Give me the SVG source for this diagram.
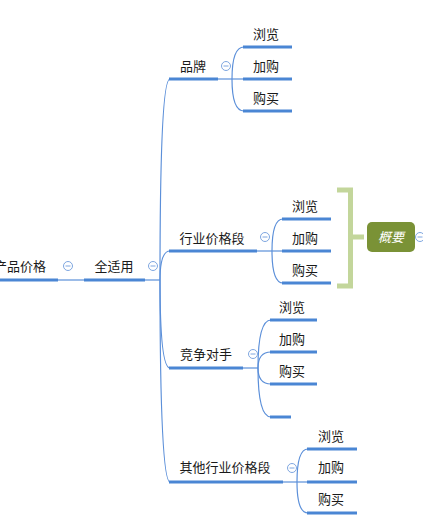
<svg xmlns="http://www.w3.org/2000/svg" width="423" height="520" viewBox="0 0 423 520">
<style>
.t{font-family:"Noto Sans CJK SC","Liberation Sans",sans-serif;font-size:13px;fill:#1a1a1a;text-anchor:middle}
.u{stroke:#4a86d4;stroke-width:3;fill:none}
.c{stroke:#5b8fd9;stroke-width:1.2;fill:none}
.col circle{fill:#fff;stroke:#7ea6e0;stroke-width:1}
.col line{stroke:#7ea6e0;stroke-width:1}
</style>
<rect width="423" height="520" fill="#fff"/>
<g id="connectors">
<path class="c" d="M58,280 L84,280"/>
<path class="c" d="M145,280 L160,280"/>
<path class="c" d="M160,280 Q160,79 170,79"/>
<path class="c" d="M160,280 Q160,251 170,251"/>
<path class="c" d="M160,280 Q160,368 170,368"/>
<path class="c" d="M160,280 Q160,482 170,482"/>
<path class="c" d="M218,79 L244,79"/>
<path class="c" d="M232,79 Q232,47 244,47"/>
<path class="c" d="M232,79 Q232,111 244,111"/>
<path class="c" d="M257,251 L283,251"/>
<path class="c" d="M272,251 Q272,219 283,219"/>
<path class="c" d="M272,251 Q272,283 283,283"/>
<path class="c" d="M243,368 L258,368"/>
<path class="c" d="M258,368 Q258,320 271,320"/>
<path class="c" d="M258,368 Q258,352 271,352"/>
<path class="c" d="M258,368 Q258,384 271,384"/>
<path class="c" d="M258,368 Q258,417 271,417"/>
<path class="c" d="M283,482 L308,482"/>
<path class="c" d="M297,482 Q297,449 308,449"/>
<path class="c" d="M297,482 Q297,513 308,513"/>
</g>
<g id="root">
<line class="u" x1="0" y1="280" x2="58" y2="280"/>
<text class="t" x="20" y="271">产品价格</text>
<g class="col"><circle cx="68" cy="266" r="4.5"/><line x1="65.5" y1="266" x2="70.5" y2="266"/></g>
</g>
<g id="quanshiyong">
<line class="u" x1="84" y1="280" x2="145" y2="280"/>
<text class="t" x="114" y="271">全适用</text>
<g class="col"><circle cx="153" cy="266" r="4.5"/><line x1="150.5" y1="266" x2="155.5" y2="266"/></g>
</g>
<g id="pinpai">
<line class="u" x1="169" y1="79" x2="218" y2="79"/>
<text class="t" x="193" y="71">品牌</text>
<g class="col"><circle cx="226" cy="66" r="4.5"/><line x1="223.5" y1="66" x2="228.5" y2="66"/></g>
</g>
<g id="pinpai-liulan"><line class="u" x1="243" y1="47" x2="292" y2="47"/><text class="t" x="266" y="39">浏览</text></g>
<g id="pinpai-jiagou"><line class="u" x1="243" y1="79" x2="292" y2="79"/><text class="t" x="266" y="71">加购</text></g>
<g id="pinpai-goumai"><line class="u" x1="243" y1="111" x2="292" y2="111"/><text class="t" x="266" y="103">购买</text></g>
<g id="hangye">
<line class="u" x1="169" y1="251" x2="257" y2="251"/>
<text class="t" x="212" y="243">行业价格段</text>
<g class="col"><circle cx="265" cy="237" r="4.5"/><line x1="262.5" y1="237" x2="267.5" y2="237"/></g>
</g>
<g id="hangye-liulan"><line class="u" x1="282" y1="219" x2="331" y2="219"/><text class="t" x="305" y="211">浏览</text></g>
<g id="hangye-jiagou"><line class="u" x1="282" y1="251" x2="331" y2="251"/><text class="t" x="305" y="243">加购</text></g>
<g id="hangye-goumai"><line class="u" x1="282" y1="283" x2="331" y2="283"/><text class="t" x="305" y="275">购买</text></g>
<g id="summary-bracket">
<path d="M337,190 L350.5,190 L350.5,286 L337,286 M350.5,237 L364,237" fill="none" stroke="#c3d69b" stroke-width="5"/>
</g>
<g id="gaiyao">
<rect x="367" y="222" width="48" height="30" rx="5" fill="#7a9236"/>
<text class="t" x="391" y="242" style="fill:#fff;font-style:italic">概要</text>
<g class="col"><circle cx="420" cy="237" r="4.5"/><line x1="417.5" y1="237" x2="422.5" y2="237"/></g>
</g>
<g id="jingzheng">
<line class="u" x1="169" y1="368" x2="243" y2="368"/>
<text class="t" x="206" y="359">竞争对手</text>
<g class="col"><circle cx="253" cy="354" r="4.5"/><line x1="250.5" y1="354" x2="255.5" y2="354"/></g>
</g>
<g id="jingzheng-liulan"><line class="u" x1="270" y1="320" x2="317" y2="320"/><text class="t" x="292" y="312">浏览</text></g>
<g id="jingzheng-jiagou"><line class="u" x1="270" y1="352" x2="317" y2="352"/><text class="t" x="292" y="344">加购</text></g>
<g id="jingzheng-goumai"><line class="u" x1="270" y1="384" x2="317" y2="384"/><text class="t" x="292" y="376">购买</text></g>
<g id="jingzheng-empty"><line class="u" x1="270" y1="417" x2="291" y2="417"/></g>
<g id="qita">
<line class="u" x1="169" y1="482" x2="283" y2="482"/>
<text class="t" x="225" y="472">其他行业价格段</text>
<g class="col"><circle cx="292" cy="468" r="4.5"/><line x1="289.5" y1="468" x2="294.5" y2="468"/></g>
</g>
<g id="qita-liulan"><line class="u" x1="307" y1="449" x2="357" y2="449"/><text class="t" x="331" y="441">浏览</text></g>
<g id="qita-jiagou"><line class="u" x1="307" y1="482" x2="357" y2="482"/><text class="t" x="331" y="472">加购</text></g>
<g id="qita-goumai"><line class="u" x1="307" y1="513" x2="357" y2="513"/><text class="t" x="331" y="504">购买</text></g>
</svg>
